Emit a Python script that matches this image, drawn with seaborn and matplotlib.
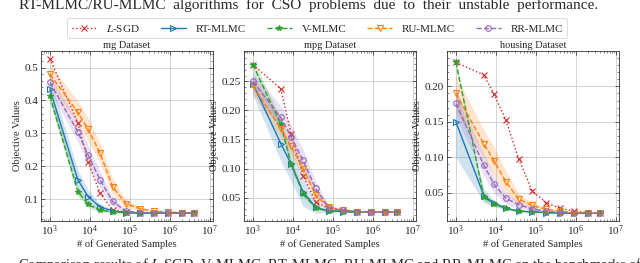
import numpy as np
import pandas as pd
import matplotlib
matplotlib.use("Agg")
import matplotlib.pyplot as plt
import matplotlib.ticker as mticker
import seaborn as sns

# ---------------- data ----------------
samples = [1e3, 5e3, 9e3, 1.8e4, 3.7e4, 8e4, 1.8e5, 4e5, 9e5, 2e6, 4e6]
datasets = ["mg Dataset", "mpg Dataset", "housing Dataset"]
methods = ["$\\it{L}$-SGD", "RT-MLMC", "V-MLMC", "RU-MLMC", "RR-MLMC"]

mg_lsgd = [0.527, 0.333, 0.214, 0.118, 0.068, 0.060, 0.058, 0.058, 0.058, 0.058, 0.058]
mg_rt = [0.435, 0.159, 0.108, 0.076, 0.064, 0.059, 0.058, 0.058, 0.058, 0.058, 0.058]
mg_v = [0.414, 0.123, 0.084, 0.066, 0.061, 0.059, 0.058, 0.058, 0.058, 0.058, 0.058]
mg_ru = [0.480, 0.364, 0.313, 0.240, 0.138, 0.086, 0.071, 0.063, 0.061, 0.059, 0.058]
mg_rr = [0.455, 0.305, 0.234, 0.159, 0.093, 0.063, 0.059, 0.058, 0.058, 0.058, 0.058]

mpg_lsgd = [0.279, 0.237, 0.160, 0.088, 0.043, 0.031, 0.028, 0.026, 0.025, 0.025, 0.025]
mpg_rt = [0.246, 0.143, 0.108, 0.060, 0.033, 0.027, 0.026, 0.025, 0.025, 0.025, 0.025]
mpg_v = [0.279, 0.176, 0.108, 0.057, 0.032, 0.027, 0.026, 0.025, 0.025, 0.025, 0.025]
mpg_ru = [0.243, 0.168, 0.138, 0.100, 0.054, 0.033, 0.029, 0.026, 0.025, 0.025, 0.025]
mpg_rr = [0.250, 0.188, 0.155, 0.114, 0.066, 0.032, 0.028, 0.026, 0.025, 0.025, 0.025]

hou_lsgd = [0.234, 0.216, 0.189, 0.152, 0.098, 0.053, 0.036, 0.028, 0.024, 0.022, 0.021]
hou_rt = [0.150, 0.046, 0.035, 0.028, 0.024, 0.023, 0.022, 0.021, 0.021, 0.021, 0.021]
hou_v = [0.234, 0.044, 0.034, 0.028, 0.024, 0.023, 0.022, 0.021, 0.021, 0.021, 0.021]
hou_ru = [0.190, 0.119, 0.095, 0.065, 0.041, 0.032, 0.027, 0.024, 0.022, 0.021, 0.021]
hou_rr = [0.176, 0.089, 0.062, 0.042, 0.033, 0.027, 0.024, 0.022, 0.021, 0.021, 0.021]

# standard deviations (shaded bands); L-SGD has none
mg_rt_sd = [0.035, 0.030, 0.020, 0.010, 0.005, 0.002, 0.001, 0.0, 0.0, 0.0, 0.0]
mg_v_sd = [0.020, 0.015, 0.010, 0.005, 0.003, 0.001, 0.0, 0.0, 0.0, 0.0, 0.0]
mg_ru_sd = [0.030, 0.035, 0.035, 0.030, 0.025, 0.012, 0.006, 0.003, 0.002, 0.001, 0.001]
mg_rr_sd = [0.025, 0.030, 0.030, 0.025, 0.015, 0.006, 0.002, 0.001, 0.0, 0.0, 0.0]

mpg_rt_sd = [0.020, 0.030, 0.030, 0.025, 0.010, 0.003, 0.001, 0.0, 0.0, 0.0, 0.0]
mpg_v_sd = [0.010, 0.010, 0.008, 0.005, 0.003, 0.001, 0.0, 0.0, 0.0, 0.0, 0.0]
mpg_ru_sd = [0.015, 0.015, 0.015, 0.012, 0.010, 0.004, 0.002, 0.001, 0.0, 0.0, 0.0]
mpg_rr_sd = [0.015, 0.020, 0.020, 0.018, 0.012, 0.004, 0.002, 0.001, 0.0, 0.0, 0.0]

hou_rt_sd = [0.050, 0.010, 0.004, 0.002, 0.001, 0.0, 0.0, 0.0, 0.0, 0.0, 0.0]
hou_v_sd = [0.005, 0.005, 0.003, 0.002, 0.001, 0.0, 0.0, 0.0, 0.0, 0.0, 0.0]
hou_ru_sd = [0.025, 0.020, 0.020, 0.015, 0.008, 0.004, 0.002, 0.001, 0.0, 0.0, 0.0]
hou_rr_sd = [0.020, 0.015, 0.012, 0.008, 0.005, 0.003, 0.002, 0.001, 0.0, 0.0, 0.0]

means = [
    [mg_lsgd, mg_rt, mg_v, mg_ru, mg_rr],
    [mpg_lsgd, mpg_rt, mpg_v, mpg_ru, mpg_rr],
    [hou_lsgd, hou_rt, hou_v, hou_ru, hou_rr],
]
sds = [
    [None, mg_rt_sd, mg_v_sd, mg_ru_sd, mg_rr_sd],
    [None, mpg_rt_sd, mpg_v_sd, mpg_ru_sd, mpg_rr_sd],
    [None, hou_rt_sd, hou_v_sd, hou_ru_sd, hou_rr_sd],
]

# ---------------- style ----------------
sns.set_theme(style="ticks")
plt.rcParams["font.family"] = ["Liberation Serif", "DejaVu Serif"]
plt.rcParams["mathtext.fontset"] = "stix"
plt.rcParams["xtick.direction"] = "in"
plt.rcParams["ytick.direction"] = "in"
plt.rcParams["xtick.top"] = True
plt.rcParams["ytick.right"] = True

colors = ["#d62728", "#1f77b4", "#2ca02c", "#ff7f0e", "#9467bd"]
styles = [":", "-", "--", "--", "--"]
markers = ["x", ">", "*", "v", "o"]
hollow = [False, True, False, True, True]

fig = plt.figure(figsize=(6.4, 2.63), dpi=100)
lefts = [41 / 640, 244 / 640, 447 / 640]
W = 172 / 640
B = 1 - 221 / 263
H = 170 / 263
axes = [fig.add_axes([l, B, W, H]) for l in lefts]

for k, ax in enumerate(axes):
    for j in range(5):
        y = np.array(means[k][j])
        xs = np.array(samples)
        if sds[k][j] is not None:
            sd = np.array(sds[k][j])
            ax.fill_between(xs, y - sd, y + sd, color=colors[j], alpha=0.2, linewidth=0)
        df = pd.DataFrame({"x": xs, "y": y})
        sns.lineplot(data=df, x="x", y="y", ax=ax, color=colors[j], linestyle=styles[j],
                     linewidth=1.0, marker=markers[j], markersize=4,
                     markerfacecolor="none" if hollow[j] else colors[j],
                     markeredgecolor=colors[j], markeredgewidth=0.8,
                     label=methods[j], legend=False)
    ax.set_xscale("log")
    ax.set_xlim(6e2, 1.2e7)
    ax.set_xticks([1e3, 1e4, 1e5, 1e6, 1e7])
    ax.xaxis.set_major_formatter(mticker.LogFormatterMathtext())
    ax.xaxis.set_minor_locator(mticker.LogLocator(base=10, subs=np.arange(2, 10), numticks=20))
    ax.xaxis.set_minor_formatter(mticker.NullFormatter())
    ax.yaxis.set_minor_locator(mticker.AutoMinorLocator())
    ax.grid(True, which="major", color="#cccccc", linewidth=0.6)
    ax.tick_params(axis="both", which="major", labelsize=8, length=3, width=0.5, pad=2)
    ax.tick_params(axis="both", which="minor", length=1.5, width=0.4)
    for s in ax.spines.values():
        s.set_linewidth(0.6)
        s.set_color("#333333")
    ax.set_title(datasets[k], fontsize=7.5, pad=2)
    ax.set_xlabel("# of Generated Samples", fontsize=7.5, labelpad=1)
    ax.set_ylabel("Objective Values", fontsize=7.5, labelpad=2)

axes[0].set_yticks([0.1, 0.2, 0.3, 0.4, 0.5])
axes[1].set_yticks([0.05, 0.10, 0.15, 0.20, 0.25])
axes[1].yaxis.set_major_formatter(mticker.FormatStrFormatter("%.2f"))
axes[2].set_yticks([0.05, 0.10, 0.15, 0.20])
axes[2].yaxis.set_major_formatter(mticker.FormatStrFormatter("%.2f"))

handles, labels = axes[0].get_legend_handles_labels()
leg = fig.legend(handles, labels, loc="center", bbox_to_anchor=(0.496, 1 - 28 / 263),
                 ncol=5, fontsize=8, frameon=True, fancybox=True, handlelength=2.2,
                 columnspacing=1.9, borderpad=0.4, handletextpad=0.9)
leg.get_frame().set_edgecolor("#cccccc")
leg.get_frame().set_linewidth(0.6)

# cropped caption fragments of the source page
fig.text(598 / 640, 1 - 9 / 263,
         "RT-MLMC/RU-MLMC  algorithms  for  CSO  problems  due  to  their  unstable  performance.",
         ha="right", va="baseline", fontsize=11)
fig.text(18 / 640, 1 - 257 / 263,
         "Comparison results of $\\it{L}$-SGD, V-MLMC, RT-MLMC, RU-MLMC and RR-MLMC on the benchmarks of (a)",
         ha="left", va="top", fontsize=10.5)

fig.savefig("out.png", dpi=100)
